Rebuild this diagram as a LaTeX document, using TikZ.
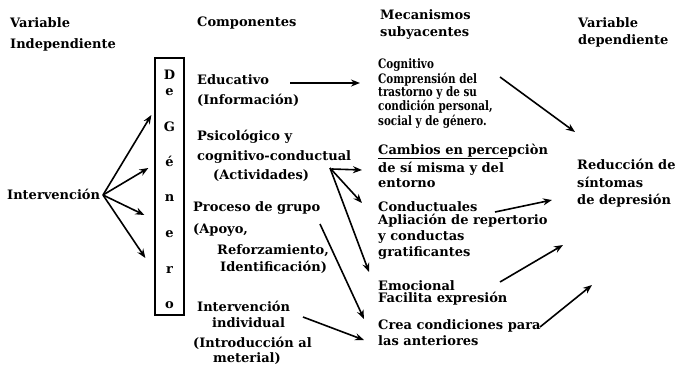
\documentclass[tikz,border=0pt]{standalone}
\usepackage{fontspec}
\setmainfont{DejaVu Serif}
\newfontfamily\cogfont{DejaVu Serif}[FakeStretch=0.8]
\usetikzlibrary{arrows.meta}

\tikzset{
  txt/.style={anchor=base west, inner sep=0pt, align=left, font=\bfseries\fontsize{13}{12}\selectfont},
  mech/.style={txt, font=\bfseries\fontsize{13}{11}\selectfont},
  letra/.style={inner sep=0pt, font=\bfseries\fontsize{13}{12}\selectfont},
  flecha/.style={draw, line width=1.6pt, -{Stealth[length=9pt,width=7pt]}}
}

\begin{document}
\begin{tikzpicture}[x=1pt, y=-1pt]
\useasboundingbox (0,0) rectangle (677,365);
% encabezados
\node[txt] (h1) at (10,48) {Variable\\[9pt]Independiente};
\node[txt] (h2) at (197,26) {Componentes};
\node[txt] (h3) at (380,36) {Mecanismos\\[5pt]subyacentes};
\node[txt] (h4) at (578,44) {Variable\\[5pt]dependiente};

% caja de genero
\node[draw, line width=1.3pt, minimum width=29pt, minimum height=257pt, inner sep=0pt] (genero) at (169.5,186.5) {};
\foreach \l/\y [count=\i] in {D/75,e/92,G/127,é/161,n/198,e/234,r/270,o/305}
  \node[letra] (g\i) at (169.5,\y) {\l};

\node[txt] (interv) at (7,199) {Intervención};

% componentes
\node[txt] (educ) at (197,104) {Educativo\\[8pt](Información)};
\node[txt] (psico) at (197,179) {Psicológico y\\[6pt]cognitivo-conductual\\[5pt]\hspace*{16pt}(Actividades)};
\node[txt] (proceso) at (193,271) {Proceso de grupo\\[8pt](Apoyo,\\[7pt]\hspace*{24pt}Reforzamiento,\\[3pt]\hspace*{27pt}Identificación)};
\node[txt] (indiv) at (193,362) {\hspace*{4pt}Intervención\\[4pt]\hspace*{19pt}individual\\[8pt](Introducción al\\[3pt]\hspace*{20pt}meterial)};

% mecanismos
\node[mech, font=\cogfont\bfseries\fontsize{13}{11}\selectfont] (cog) at (378,125) {Cognitivo\\Comprensión del\\trastorno y de su\\condición personal,\\social y de género.};
\node[mech] (cambios) at (378,187) {\underline{Cambios en perce}pciòn\\[2pt]de sí misma y del\\[2pt]entorno};
\node[mech] (conduct) at (378,256) {Conductuales\\[2pt]Apliación de repertorio\\[2pt]y conductas\\[2pt]gratificantes};
\node[mech] (emoc) at (378,302) {Emocional\\[1pt]Facilita expresión};
\node[mech] (crea) at (378,345) {Crea condiciones para\\[2pt]las anteriores};

\node[txt] (red) at (577,204) {Reducción de\\[6pt]síntomas\\[5pt]de depresión};

% flechas
\foreach \dx/\dy in {-3/-71.5,-6/-18.5,-10/28.5,-9/71.5}
  \path[flecha] ([shift={(96,-4)}]interv.base west) -- ([shift={(\dx,\dy)}]genero.west);

\path[flecha] ([shift={(93,-21)}]educ.base west) -- ([shift={(-18,-42)}]cog.base west);
\path[flecha] ([shift={(122,-48)}]cog.base west) -- ([shift={(-2,-72)}]red.base west);
\path[flecha] ([shift={(135,-10)}]psico.base west) -- ([shift={(-16,-17)}]cambios.base west);
\path[flecha] ([shift={(133,-11)}]psico.base west) -- ([shift={(-16,-53)}]conduct.base west);
\path[flecha] ([shift={(133,-11)}]psico.base west) -- ([shift={(-9,-30)}]emoc.base west);
\path[flecha] ([shift={(127,-47)}]proceso.base west) -- ([shift={(-14,-26)}]crea.base west);
\path[flecha] ([shift={(110,-45)}]indiv.base west) -- ([shift={(-14,-5)}]crea.base west);
\path[flecha] ([shift={(117,-44)}]conduct.base west) -- ([shift={(-25,-4)}]red.base west);
\path[flecha] ([shift={(122,-20)}]emoc.base west) -- ([shift={(-14,41)}]red.base west);
\path[flecha] ([shift={(162,-18)}]crea.base west) -- ([shift={(15,81)}]red.base west);
\end{tikzpicture}
\end{document}
